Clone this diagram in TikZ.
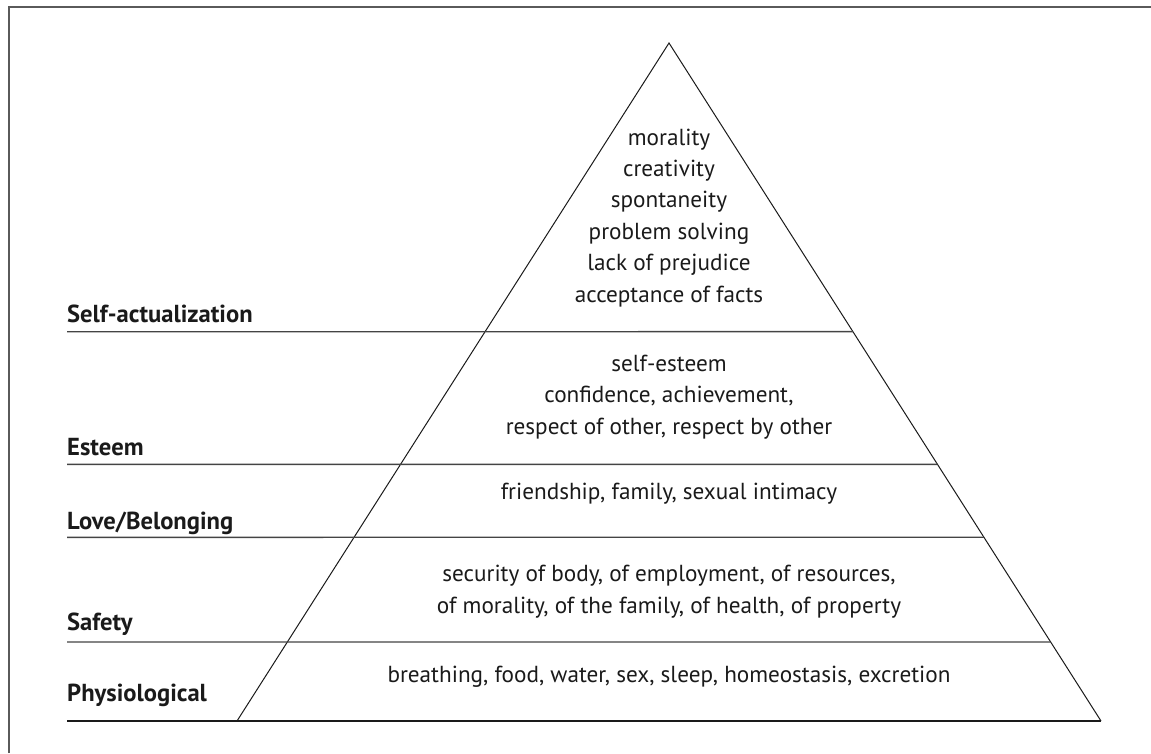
\documentclass[tikz,border=0pt]{standalone}
\usepackage{fontspec}
\setmainfont{PT Sans}
\usetikzlibrary{calc}
\definecolor{ink}{HTML}{1A1A1A}
\definecolor{rule}{HTML}{444444}
\definecolor{frame}{HTML}{5A5A5A}
\tikzset{
  body/.style={font=\fontsize{23.2}{31.4}\selectfont, text=ink, align=center, anchor=base, inner sep=0pt},
  lvl/.style={font=\fontsize{24.6}{28}\selectfont\bfseries, text=ink, anchor=base west, inner sep=0pt},
  side/.style={draw=ink, line width=1pt},
  tier/.style={draw=rule, line width=1.4pt},
  framed/.style={draw=frame, line width=1.8pt}
}
\begin{document}
\begin{tikzpicture}[x=1pt,y=-1pt]
\useasboundingbox (0,0) rectangle (1151,753);
\coordinate (fa) at (8.8,753);
\coordinate (fb) at (8.8,6.6);
\coordinate (fc) at (1151,6.6);
\draw[framed] (fa) -- (fb) -- (fc);
% pyramid
\coordinate (apex) at (669,43);
\coordinate (bl) at (237,721);
\coordinate (br) at (1101,721);
\coordinate (b0) at (67,721);
\draw[side] (bl) -- (apex) -- (br);
\draw[side, line width=1.2pt] (b0) -- (br);
% tier lines
\coordinate (l1) at (67,331.7);
\coordinate (l2) at (67,464.3);
\coordinate (l3) at (67,537.3);
\coordinate (l4) at (67,642);
\coordinate (r1) at ($(apex)!0.4258!(br)$);
\coordinate (r2) at ($(apex)!0.6214!(br)$);
\coordinate (r3) at ($(apex)!0.7290!(br)$);
\coordinate (r4) at ($(apex)!0.8835!(br)$);
\draw[tier] (l1) -- (r1);
\draw[tier] (l2) -- (r2);
\draw[tier] (l3) -- (r3);
\draw[tier] (l4) -- (r4);
% level labels
\node[lvl] (n1) at (67,322) {Self-actualization};
\node[lvl] (n2) at (67,455) {Esteem};
\node[lvl] (n3) at (67,529) {Love/Belonging};
\node[lvl] (n4) at (67,630) {Safety};
\node[lvl] (n5) at (67,701) {Physiological};
% tier contents
\node[body] (t1) at (669,302) {morality\\creativity\\spontaneity\\problem solving\\lack of prejudice\\acceptance of facts};
\node[body] (t2) at (669,434) {self-esteem\\confidence, achievement,\\respect of other, respect by other};
\node[body] (t3) at (669,499) {friendship, family, sexual intimacy};
\node[body] (t4) at (669,613) {security of body, of employment, of resources,\\of morality, of the family, of health, of property};
\node[body] (t5) at (669,682) {breathing, food, water, sex, sleep, homeostasis, excretion};
\end{tikzpicture}
\end{document}
